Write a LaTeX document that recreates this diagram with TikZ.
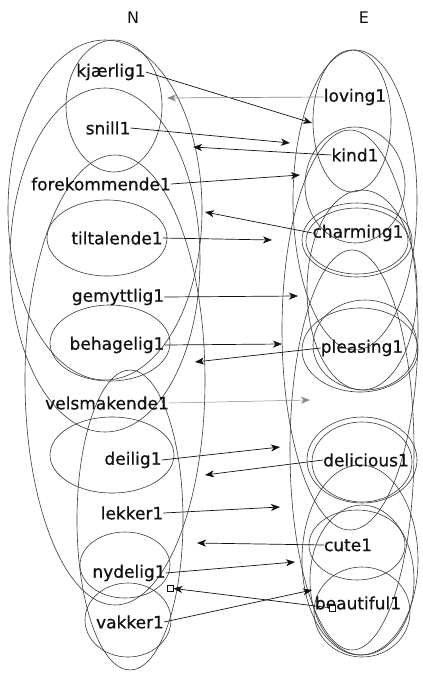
\documentclass[tikz,border=0pt]{standalone}
\usepackage{fontspec}
\setmainfont{DejaVu Sans}
\newfontfamily\wordfont{DejaVu Sans}[FakeBold=0.7]
\usetikzlibrary{arrows.meta}
\definecolor{ink}{HTML}{111111}
\definecolor{ringgrey}{HTML}{3A3A3A}
\definecolor{faint}{HTML}{8A8A8A}
\tikzset{
    word/.style={inner sep=0pt, font=\wordfont\fontsize{17}{20}\selectfont, text=ink},
    colhead/.style={inner sep=0pt, font=\fontsize{16}{19}\selectfont, text=ink},
    setring/.style={draw=ringgrey, line width=0.6pt},
    arrow/.style={-{Stealth[length=9pt, width=7pt, inset=2.5pt]}, line width=0.7pt, color=ink},
    thinarrow/.style={arrow, color=faint, line width=0.5pt},
    endmark/.style={draw=ink, fill=white, line width=0.6pt, minimum size=6pt, inner sep=0pt},
}
\begin{document}
\begin{tikzpicture}[x=1pt, y=-1pt]
    \useasboundingbox (0,0) rectangle (423,673);
    % rings, N side
    \draw[setring] (114,106) ellipse [x radius=48, y radius=66];
    \draw[setring] (105,210) ellipse [x radius=97, y radius=170];
    \draw[setring] (105,260) ellipse [x radius=95, y radius=172];
    \draw[setring] (107,238) ellipse [x radius=60, y radius=38];
    \draw[setring] (110,343) ellipse [x radius=60, y radius=38];
    \draw[setring] (115,380) ellipse [x radius=90, y radius=225];
    \draw[setring] (112,455) ellipse [x radius=62, y radius=38];
    \draw[setring] (130,520) ellipse [x radius=53, y radius=150];
    \draw[setring] (125,565) ellipse [x radius=45, y radius=33];
    \draw[setring] (128,620) ellipse [x radius=43, y radius=37];
    % rings, E side
    \draw[setring] (352,121) ellipse [x radius=39, y radius=71];
    \draw[setring] (355,200) ellipse [x radius=62, y radius=150];
    \draw[setring] (355,185) ellipse [x radius=50, y radius=58];
    \draw[setring] (350,330) ellipse [x radius=68, y radius=200];
    \draw[setring] (357,240) ellipse [x radius=55, y radius=37];
    \draw[setring] (357,241) ellipse [x radius=51, y radius=33];
    \draw[setring] (362,290) ellipse [x radius=55, y radius=100];
    \draw[setring] (360,350) ellipse [x radius=58, y radius=42];
    \draw[setring] (365,345) ellipse [x radius=52, y radius=45];
    \draw[setring] (352,450) ellipse [x radius=62, y radius=200];
    \draw[setring] (362,460) ellipse [x radius=55, y radius=43];
    \draw[setring] (362,462) ellipse [x radius=50, y radius=40];
    \draw[setring] (357,545) ellipse [x radius=48, y radius=35];
    \draw[setring] (360,560) ellipse [x radius=58, y radius=95];
    \draw[setring] (362,580) ellipse [x radius=52, y radius=75];
    \draw[setring] (362,612) ellipse [x radius=48, y radius=45];

    \node[colhead] (headN) at (133,18) {N};
    \node[colhead] (headE) at (364,18) {E};

    \node[word] (kjaerlig) at (111,72) {kjærlig1};
    \node[word] (snill) at (108,128) {snill1};
    \node[word] (forekommende) at (101,184) {forekommende1};
    \node[word] (tiltalende) at (117,238) {tiltalende1};
    \node[word] (gemyttlig) at (118,297) {gemyttlig1};
    \node[word] (behagelig) at (117,345) {behagelig1};
    \node[word] (velsmakende) at (107,403) {velsmakende1};
    \node[word] (deilig) at (133,460) {deilig1};
    \node[word] (lekker) at (132,513) {lekker1};
    \node[word] (nydelig) at (129,573) {nydelig1};
    \node[word] (vakker) at (130,622) {vakker1};

    \node[word] (loving) at (355,97) {loving1};
    \node[word] (kind) at (355,155) {kind1};
    \node[word] (charming) at (358,233) {charming1};
    \node[word] (pleasing) at (362,348) {pleasing1};
    \node[word] (delicious) at (366,460) {delicious1};
    \node[word] (cute) at (348,545) {cute1};
    \node[word] (beautiful) at (358,603) {beautiful1};

    % arrow tips on the rings
    \coordinate (hitLoving) at (312,123);
    \coordinate (hitKjaerlig) at (167,98);
    \coordinate (hitSnill) at (290,143);
    \coordinate (hitKind) at (193,147);
    \coordinate (hitForekommende) at (300,175);
    \coordinate (hitCharming) at (205,212);
    \coordinate (hitTiltalende) at (272,240);
    \coordinate (hitGemyttlig) at (298,296);
    \coordinate (hitBehagelig) at (282,344);
    \coordinate (hitPleasing) at (195,362);
    \coordinate (hitVelsmakende) at (310,400);
    \coordinate (hitDeilig) at (280,447);
    \coordinate (hitDelicious) at (205,475);
    \coordinate (hitLekker) at (280,507);
    \coordinate (hitCute) at (197,543);
    \coordinate (hitNydelig) at (295,562);
    \coordinate (hitVakker) at (312,590);
    \node[endmark] (markE) at (332,608) {};
    \node[endmark] (markN) at (170,588) {};

    \draw[arrow] (kjaerlig.east) -- (hitLoving);
    \draw[arrow, color=faint] (loving.west) -- (hitKjaerlig);
    \draw[arrow] (snill.east) -- (hitSnill);
    \draw[arrow] (kind.west) -- (hitKind);
    \draw[arrow] (forekommende.east) -- (hitForekommende);
    \draw[arrow] (charming.west) -- (hitCharming);
    \draw[arrow] (tiltalende.east) -- (hitTiltalende);
    \draw[arrow] (gemyttlig.east) -- (hitGemyttlig);
    \draw[arrow] (behagelig.east) -- (hitBehagelig);
    \draw[arrow] (pleasing.west) -- (hitPleasing);
    \draw[thinarrow] (velsmakende.east) -- (hitVelsmakende);
    \draw[arrow] (deilig.east) -- (hitDeilig);
    \draw[arrow] (delicious.west) -- (hitDelicious);
    \draw[arrow] (lekker.east) -- (hitLekker);
    \draw[arrow] (cute.west) -- (hitCute);
    \draw[arrow] (nydelig.east) -- (hitNydelig);
    \draw[arrow] (vakker.east) -- (hitVakker);
    \draw[arrow] (markE) -- (markN);
\end{tikzpicture}
\end{document}
